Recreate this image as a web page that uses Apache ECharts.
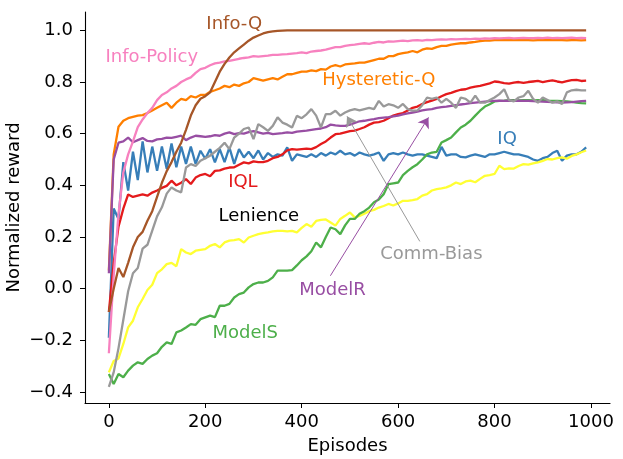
<!DOCTYPE html>
<html>
<head>
<meta charset="utf-8">
<title>Normalized reward</title>
<script src="https://cdn.jsdelivr.net/npm/echarts@6.0.0/dist/echarts.min.js"></script>
<style>
  html, body { margin: 0; padding: 0; background: #fff; }
  #main { width: 623px; height: 459px; }
</style>
</head>
<body>
<div id="main"></div>
<script>
// episodes (x), one point every 10 episodes
var episodes = [
  0, 10, 20, 30, 40, 50, 60, 70, 80, 90,
  100, 110, 120, 130, 140, 150, 160, 170, 180, 190,
  200, 210, 220, 230, 240, 250, 260, 270, 280, 290,
  300, 310, 320, 330, 340, 350, 360, 370, 380, 390,
  400, 410, 420, 430, 440, 450, 460, 470, 480, 490,
  500, 510, 520, 530, 540, 550, 560, 570, 580, 590,
  600, 610, 620, 630, 640, 650, 660, 670, 680, 690,
  700, 710, 720, 730, 740, 750, 760, 770, 780, 790,
  800, 810, 820, 830, 840, 850, 860, 870, 880, 890,
  900, 910, 920, 930, 940, 950, 960, 970, 980, 990
];

var iq = [
  -0.19, 0.31, 0.27, 0.49, 0.38, 0.53, 0.42, 0.57, 0.45, 0.55,
  0.456, 0.55, 0.464, 0.562, 0.47, 0.55, 0.483, 0.55, 0.483, 0.534,
  0.503, 0.54, 0.489, 0.54, 0.49, 0.547, 0.483, 0.54, 0.508, 0.53,
  0.505, 0.535, 0.50, 0.525, 0.51, 0.52, 0.515, 0.547, 0.495, 0.52,
  0.515, 0.51, 0.52, 0.51, 0.525, 0.515, 0.527, 0.52, 0.534, 0.52,
  0.525, 0.515, 0.527, 0.52, 0.515, 0.52, 0.527, 0.495, 0.52, 0.525,
  0.52, 0.527, 0.52, 0.515, 0.52, 0.52, 0.515, 0.51, 0.505, 0.549,
  0.515, 0.52, 0.52, 0.51, 0.508, 0.515, 0.52, 0.515, 0.51, 0.52,
  0.52, 0.525, 0.53, 0.525, 0.52, 0.52, 0.515, 0.51, 0.50, 0.495,
  0.505, 0.51, 0.525, 0.534, 0.495, 0.515, 0.52, 0.52, 0.53, 0.547
];

var iql = [
  -0.09, 0.10, 0.24, 0.31, 0.365, 0.355, 0.36, 0.365, 0.36, 0.372,
  0.38, 0.39, 0.398, 0.418, 0.40, 0.41, 0.424, 0.405, 0.43, 0.44,
  0.444, 0.435, 0.456, 0.458, 0.465, 0.469, 0.47, 0.48, 0.489, 0.485,
  0.493, 0.49, 0.49, 0.495, 0.505, 0.51, 0.52, 0.535, 0.54, 0.538,
  0.54, 0.542, 0.54, 0.548, 0.56, 0.57, 0.585, 0.598, 0.60, 0.605,
  0.61, 0.612, 0.618, 0.625, 0.635, 0.643, 0.645, 0.65, 0.66, 0.67,
  0.676, 0.68, 0.69, 0.70, 0.705, 0.715, 0.722, 0.728, 0.735, 0.745,
  0.753, 0.758, 0.765, 0.77, 0.772, 0.778, 0.782, 0.785, 0.79, 0.795,
  0.802, 0.80, 0.796, 0.794, 0.798, 0.80, 0.797, 0.80, 0.802, 0.804,
  0.80, 0.803, 0.806, 0.802, 0.799, 0.803, 0.807, 0.808, 0.804, 0.805
];

var lenience = [
  -0.324, -0.28, -0.27, -0.214, -0.15, -0.124, -0.072, -0.04, -0.005, 0.015,
  0.06, 0.075, 0.095, 0.10, 0.087, 0.153, 0.14, 0.134, 0.147, 0.15,
  0.153, 0.166, 0.173, 0.16, 0.179, 0.186, 0.188, 0.192, 0.179, 0.198,
  0.205, 0.211, 0.215, 0.218, 0.222, 0.224, 0.224, 0.222, 0.224, 0.218,
  0.235, 0.25, 0.24, 0.262, 0.266, 0.268, 0.256, 0.244, 0.27, 0.282,
  0.295, 0.276, 0.282, 0.29, 0.30, 0.305, 0.314, 0.32, 0.328, 0.322,
  0.33, 0.34, 0.34, 0.343, 0.347, 0.36, 0.366, 0.38, 0.385, 0.388,
  0.392, 0.40, 0.411, 0.405, 0.415, 0.418, 0.412, 0.425, 0.437, 0.44,
  0.444, 0.476, 0.463, 0.466, 0.465, 0.475, 0.482, 0.48, 0.485, 0.489,
  0.495, 0.502, 0.50, 0.505, 0.508, 0.503, 0.514, 0.52, 0.528, 0.535
];

var hystereticQ = [
  0.07, 0.52, 0.627, 0.65, 0.66, 0.665, 0.67, 0.672, 0.68, 0.69,
  0.70, 0.71, 0.72, 0.70, 0.72, 0.735, 0.73, 0.745, 0.74, 0.75,
  0.75, 0.762, 0.768, 0.775, 0.785, 0.78, 0.79, 0.785, 0.795, 0.80,
  0.815, 0.81, 0.805, 0.81, 0.815, 0.81, 0.82, 0.83, 0.83, 0.835,
  0.84, 0.84, 0.845, 0.842, 0.85, 0.848, 0.86, 0.865, 0.86, 0.868,
  0.87, 0.872, 0.875, 0.875, 0.88, 0.885, 0.89, 0.89, 0.90, 0.90,
  0.908, 0.912, 0.915, 0.92, 0.915, 0.925, 0.93, 0.928, 0.935, 0.94,
  0.94, 0.945, 0.948, 0.95, 0.95, 0.953, 0.955, 0.958, 0.96, 0.96,
  0.962, 0.963, 0.962, 0.963, 0.962, 0.962, 0.963, 0.962, 0.961, 0.962,
  0.963, 0.962, 0.962, 0.963, 0.962, 0.961, 0.962, 0.962, 0.961, 0.962
];

var modelS = [
  -0.33, -0.369, -0.33, -0.343, -0.317, -0.298, -0.285, -0.291, -0.272, -0.259,
  -0.25, -0.225, -0.208, -0.214, -0.169, -0.162, -0.15, -0.137, -0.14, -0.118,
  -0.111, -0.104, -0.11, -0.066, -0.066, -0.059, -0.034, -0.021, -0.015, 0.005,
  0.018, 0.024, 0.024, 0.03, 0.044, 0.07, 0.07, 0.07, 0.072, 0.09,
  0.11, 0.125, 0.145, 0.179, 0.16, 0.20, 0.237, 0.23, 0.211, 0.245,
  0.27, 0.27, 0.29, 0.30, 0.314, 0.335, 0.345, 0.366, 0.405, 0.408,
  0.411, 0.44, 0.456, 0.47, 0.482, 0.50, 0.52, 0.527, 0.53, 0.566,
  0.575, 0.585, 0.605, 0.624, 0.635, 0.65, 0.67, 0.689, 0.705, 0.714,
  0.725, 0.727, 0.728, 0.73, 0.73, 0.729, 0.73, 0.73, 0.729, 0.73,
  0.73, 0.728, 0.727, 0.727, 0.726, 0.725, 0.723, 0.72, 0.718, 0.717
];

var modelR = [
  0.06, 0.50, 0.565, 0.57, 0.585, 0.567, 0.575, 0.583, 0.572, 0.57,
  0.578, 0.58, 0.585, 0.584, 0.588, 0.592, 0.575, 0.585, 0.592, 0.59,
  0.588, 0.59, 0.594, 0.592, 0.60, 0.605, 0.598, 0.602, 0.60, 0.606,
  0.61, 0.605, 0.60, 0.603, 0.598, 0.60, 0.602, 0.605, 0.603, 0.608,
  0.61, 0.612, 0.615, 0.618, 0.62, 0.625, 0.635, 0.632, 0.63, 0.63,
  0.635, 0.642, 0.648, 0.65, 0.653, 0.656, 0.66, 0.662, 0.664, 0.667,
  0.67, 0.675, 0.679, 0.682, 0.685, 0.69, 0.693, 0.695, 0.70, 0.703,
  0.705, 0.708, 0.71, 0.713, 0.715, 0.718, 0.72, 0.722, 0.724, 0.726,
  0.727, 0.728, 0.727, 0.728, 0.727, 0.728, 0.727, 0.727, 0.726, 0.725,
  0.724, 0.723, 0.722, 0.721, 0.72, 0.721, 0.722, 0.724, 0.726, 0.727
];

var infoPolicy = [
  -0.25, 0.05, 0.29, 0.45, 0.52, 0.57, 0.625, 0.655, 0.68, 0.70,
  0.73, 0.75, 0.76, 0.775, 0.785, 0.80, 0.81, 0.818, 0.835, 0.85,
  0.855, 0.865, 0.872, 0.875, 0.88, 0.882, 0.886, 0.89, 0.893, 0.895,
  0.90, 0.898, 0.90, 0.902, 0.905, 0.905, 0.907, 0.908, 0.91, 0.912,
  0.915, 0.912, 0.918, 0.92, 0.922, 0.925, 0.93, 0.935, 0.935, 0.94,
  0.943, 0.945, 0.948, 0.95, 0.948, 0.952, 0.955, 0.953, 0.957, 0.956,
  0.958, 0.96, 0.958, 0.961, 0.962, 0.96, 0.963, 0.962, 0.964, 0.965,
  0.964, 0.966, 0.965, 0.966, 0.967, 0.966, 0.968, 0.967, 0.969, 0.968,
  0.97, 0.969, 0.97, 0.971, 0.969, 0.97, 0.971, 0.97, 0.97, 0.971,
  0.97, 0.972, 0.97, 0.971, 0.97, 0.971, 0.972, 0.97, 0.971, 0.97
];

var infoQ = [
  -0.09, 0.0, 0.08, 0.045, 0.10, 0.16, 0.20, 0.22, 0.263, 0.30,
  0.355, 0.41, 0.455, 0.49, 0.53, 0.565, 0.615, 0.67, 0.71, 0.735,
  0.745, 0.76, 0.80, 0.84, 0.87, 0.895, 0.915, 0.93, 0.945, 0.96,
  0.972, 0.98, 0.988, 0.993, 0.996, 0.998, 0.999, 1.0, 1.0, 1.0,
  1.0, 1.0, 1.0, 1.0, 1.0, 1.0, 1.0, 1.0, 1.0, 1.0,
  1.0, 1.0, 1.0, 1.0, 1.0, 1.0, 1.0, 1.0, 1.0, 1.0,
  1.0, 1.0, 1.0, 1.0, 1.0, 1.0, 1.0, 1.0, 1.0, 1.0,
  1.0, 1.0, 1.0, 1.0, 1.0, 1.0, 1.0, 1.0, 1.0, 1.0,
  1.0, 1.0, 1.0, 1.0, 1.0, 1.0, 1.0, 1.0, 1.0, 1.0,
  1.0, 1.0, 1.0, 1.0, 1.0, 1.0, 1.0, 1.0, 1.0, 1.0
];

var commBias = [
  -0.38, -0.324, -0.23, -0.12, -0.01, 0.06, 0.08, 0.155, 0.17, 0.225,
  0.28, 0.315, 0.368, 0.392, 0.38, 0.373, 0.469, 0.482, 0.475, 0.495,
  0.505, 0.515, 0.53, 0.545, 0.565, 0.54, 0.585, 0.60, 0.618, 0.624,
  0.579, 0.637, 0.625, 0.611, 0.63, 0.663, 0.643, 0.635, 0.624, 0.669,
  0.66, 0.675, 0.695, 0.67, 0.624, 0.676, 0.676, 0.689, 0.67, 0.682,
  0.69, 0.695, 0.69, 0.695, 0.70, 0.695, 0.727, 0.705, 0.714, 0.71,
  0.70, 0.715, 0.695, 0.689, 0.69, 0.71, 0.74, 0.735, 0.74, 0.72,
  0.735, 0.72, 0.70, 0.74, 0.735, 0.72, 0.747, 0.72, 0.72, 0.73,
  0.74, 0.753, 0.772, 0.73, 0.725, 0.74, 0.745, 0.766, 0.735, 0.72,
  0.74, 0.73, 0.72, 0.725, 0.715, 0.76, 0.768, 0.77, 0.768, 0.768
];

// tick labels
var xTicks = [0, 200, 400, 600, 800, 1000];
var yTicks = [-0.4, -0.2, 0.0, 0.2, 0.4, 0.6, 0.8, 1.0];

// in-plot text labels (centre, in data units)
var labelNames = ['Info-Q', 'Info-Policy', 'Hysteretic-Q', 'IQ', 'IQL', 'Lenience', 'Comm-Bias', 'ModelR', 'ModelS'];
var labelEp    = [260, 89, 560, 826, 278, 311, 669, 464, 283];
var labelVal   = [1.025, 0.895, 0.805, 0.579, 0.411, 0.282, 0.1315, -0.008, -0.173];
var labelColor = ['#a65628', '#f781bf', '#ff7f00', '#377eb8', '#e41a1c', '#000000', '#999999', '#984ea3', '#4daf4a'];

// arrows: [from, to] in data units
var arrowFrom  = [[645, 0.183], [459.5, 0.05]];
var arrowTo    = [[494, 0.667], [663, 0.663]];
var arrowColor = ['#999999', '#984ea3'];

var myChart = echarts.init(document.getElementById('main'), null, {renderer: 'canvas'});
var FONT = 'DejaVu Sans';

function pairs(values){
	var out = [];
	for (var i = 0; i < values.length; i++) {
		out.push([episodes[i], values[i]]);
	}
	return out;
}

function lineSeries(name, values, color){
	return {
		name: name,
		type: 'line',
		data: pairs(values),
		showSymbol: false,
		symbol: 'none',
		lineStyle: {color: color, width: 2.3},
		itemStyle: {color: color},
		silent: true
	};
}

var labelData = [];
for (var i = 0; i < labelNames.length; i++) {
	labelData.push({
		value: [labelEp[i], labelVal[i]],
		name: labelNames[i],
		label: {color: labelColor[i]}
	});
}

var arrowData = [];
for (var j = 0; j < arrowFrom.length; j++) {
	arrowData.push({
		coords: [arrowFrom[j], arrowTo[j]],
		lineStyle: {color: arrowColor[j]}
	});
}

var tickFmt = function(v){
	var s = (Math.round(v * 10) / 10).toFixed(1);
	return s.replace('-', '\u2212');
};

option = {
	backgroundColor: '#fff',
	animation: false,
	textStyle: {fontFamily: FONT},
	grid: {left: 85, right: 13, top: 12, bottom: 56, containLabel: false, outerBoundsMode: 'none'},
	xAxis: {
		type: 'value',
		min: -49.5,
		max: 1039.5,
		name: 'Episodes',
		nameLocation: 'middle',
		nameGap: 34,
		nameTextStyle: {color: '#000', fontSize: 18, fontFamily: FONT},
		axisLine: {show: true, onZero: false, lineStyle: {color: '#000', width: 1.1}},
		axisTick: {show: true, length: 5, customValues: xTicks, lineStyle: {color: '#000'}},
		axisLabel: {color: '#000', fontSize: 18, fontFamily: FONT, margin: 10, customValues: xTicks,
			formatter: function(v){ return String(v); }},
		splitLine: {show: false}
	},
	yAxis: {
		type: 'value',
		min: -0.4425,
		max: 1.071,
		name: 'Normalized reward',
		nameLocation: 'middle',
		nameRotate: 90,
		nameGap: 62,
		nameMoveOverlap: false,
		nameTextStyle: {color: '#000', fontSize: 18, fontFamily: FONT},
		axisLine: {show: true, onZero: false, lineStyle: {color: '#000', width: 1.1}},
		axisTick: {show: true, length: 5, customValues: yTicks, lineStyle: {color: '#000'}},
		axisLabel: {color: '#000', fontSize: 18, fontFamily: FONT, margin: 12, customValues: yTicks,
			formatter: tickFmt},
		splitLine: {show: false}
	},
	series: [
		lineSeries('IQ', iq, '#377eb8'),
		lineSeries('IQL', iql, '#e41a1c'),
		lineSeries('Lenience', lenience, '#ffff33'),
		lineSeries('Hysteretic-Q', hystereticQ, '#ff7f00'),
		lineSeries('ModelS', modelS, '#4daf4a'),
		lineSeries('ModelR', modelR, '#984ea3'),
		lineSeries('Info-Policy', infoPolicy, '#f781bf'),
		lineSeries('Info-Q', infoQ, '#a65628'),
		lineSeries('Comm-Bias', commBias, '#999999'),
		{
			name: 'arrows',
			type: 'lines',
			coordinateSystem: 'cartesian2d',
			symbol: ['none', 'arrow'],
			symbolSize: [0, 10],
			lineStyle: {width: 1, opacity: 1},
			data: arrowData,
			silent: true,
			z: 5
		},
		{
			name: 'labels',
			type: 'scatter',
			symbolSize: 0,
			itemStyle: {opacity: 1},
			data: labelData,
			silent: true,
			z: 6,
			label: {
				show: true,
				position: 'inside',
				fontSize: 18,
				fontFamily: FONT,
				opacity: 1,
				formatter: '{b}'
			}
		}
	]
};

myChart.setOption(option);
</script>
</body>
</html>
